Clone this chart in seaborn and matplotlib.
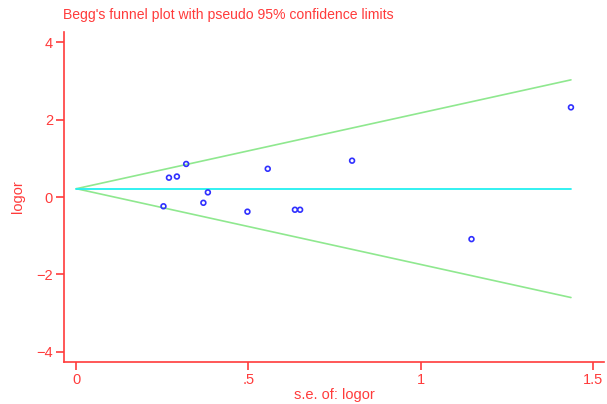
import matplotlib
matplotlib.use("Agg")
import matplotlib.pyplot as plt
import seaborn as sns
import numpy as np
import pandas as pd

# Study data
se_logor = [0.253, 0.269, 0.292, 0.319, 0.369, 0.382, 0.497, 0.556, 0.635, 0.650, 0.801, 1.148, 1.437]
logor = [-0.24, 0.50, 0.53, 0.855, -0.15, 0.12, -0.38, 0.73, -0.33, -0.33, 0.94, -1.09, 2.32]

pooled = 0.215
funnel_se = [0.0, 1.437]
x_ticks = [0, 0.5, 1, 1.5]
x_tick_labels = ["0", ".5", "1", "1.5"]
y_ticks = [-4, -2, 0, 2, 4]
y_tick_labels = ["\u22124", "\u22122", "0", "2", "4"]

sns.set_style("white")
plt.rcParams["font.family"] = ["Liberation Sans", "DejaVu Sans"]
plt.rcParams["axes.unicode_minus"] = True

RED = "#ff3b3b"
GREEN = "#8fe88f"
CYAN = "#22f0f0"
BLUE = "#3030ff"

fig = plt.figure(figsize=(6.07, 4.04), dpi=100)
ax = fig.add_axes([64 / 607, 1 - 362 / 404, (604 - 64) / 607, (362 - 32) / 404])

df = pd.DataFrame({"se": se_logor, "logor": logor})
fs = np.array(funnel_se)
lines = pd.DataFrame({
    "se": np.concatenate([fs, fs, fs]),
    "y": np.concatenate([pooled + 1.96 * fs, pooled - 1.96 * fs, [pooled, pooled]]),
    "which": ["upper"] * 2 + ["lower"] * 2 + ["pooled"] * 2,
})

sns.lineplot(data=lines[lines.which == "upper"], x="se", y="y", color=GREEN, lw=1.2, ax=ax, estimator=None)
sns.lineplot(data=lines[lines.which == "lower"], x="se", y="y", color=GREEN, lw=1.2, ax=ax, estimator=None)
sns.lineplot(data=lines[lines.which == "pooled"], x="se", y="y", color=CYAN, lw=1.3, ax=ax, estimator=None)
sns.scatterplot(data=df, x="se", y="logor", ax=ax, marker="o", s=12,
                facecolor="none", edgecolor=BLUE, linewidth=1.2, zorder=5)

ax.set_xlim(-0.036, 1.533)
ax.set_ylim(-4.27, 4.27)
ax.set_xticks(x_ticks)
ax.set_xticklabels(x_tick_labels)
ax.set_yticks(y_ticks)
ax.set_yticklabels(y_tick_labels)

for side in ["top", "right"]:
    ax.spines[side].set_visible(False)
for side in ["left", "bottom"]:
    ax.spines[side].set_color(RED)
    ax.spines[side].set_linewidth(1.2)
ax.tick_params(axis="both", direction="out", length=6, width=1.2, color=RED,
               labelcolor=RED, labelsize=10.5, pad=2, left=True, bottom=True)

ax.set_xlabel("s.e. of: logor", color=RED, fontsize=10.5, labelpad=1)
ax.set_ylabel("logor", color=RED, fontsize=10.5, labelpad=8)
fig.text(63 / 607, 1 - 15 / 404, "Begg's funnel plot with pseudo 95% confidence limits",
         color=RED, fontsize=10.1, ha="left", va="center")

fig.savefig("out.png", dpi=100)
